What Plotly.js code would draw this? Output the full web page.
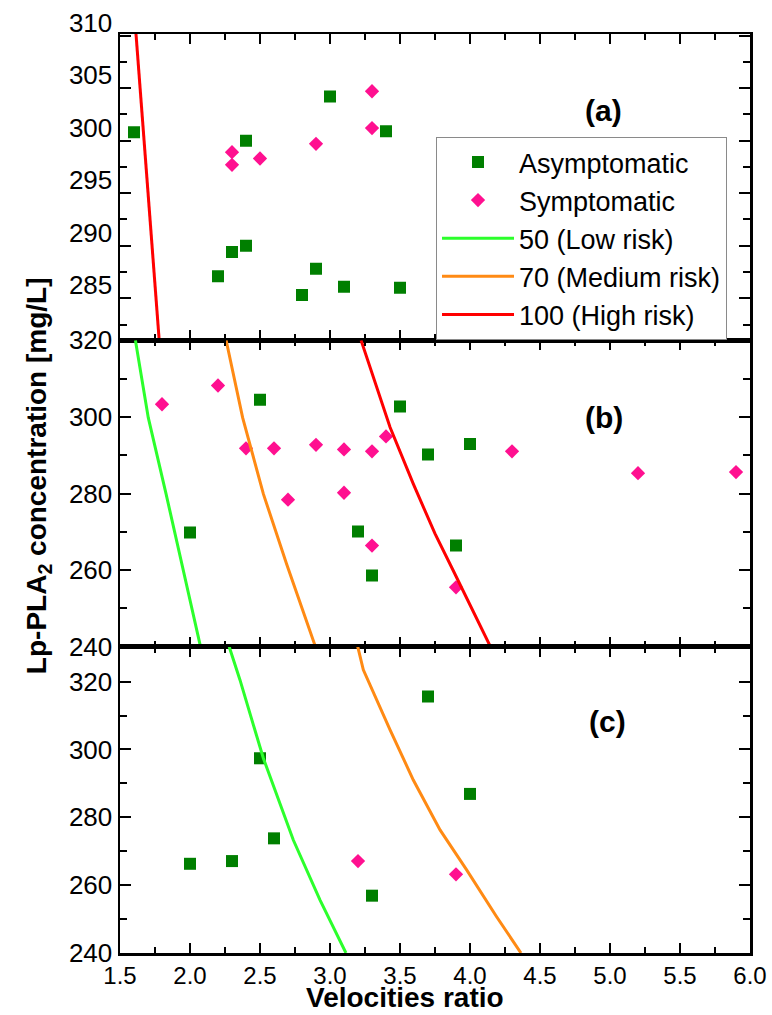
<!DOCTYPE html>
<html>
<head>
<meta charset="utf-8">
<script src="https://cdn.plot.ly/plotly-3.0.1.min.js"></script>
<style>html,body{margin:0;padding:0;background:#fff;}#chart{width:772px;height:1015px;}</style>
</head>
<body>
<div id="chart"></div>
<script>
// ---- Panel (a) data ----
const aAsymX = [1.6, 2.4, 3.0, 3.4, 2.3, 2.4, 2.2, 2.9, 2.8, 3.1, 3.5];
const aAsymY = [300.8, 300.0, 304.2, 300.9, 289.4, 290.0, 287.1, 287.8, 285.3, 286.1, 286.0];
const aSymX = [2.3, 2.3, 2.5, 2.9, 3.3, 3.3];
const aSymY = [298.9, 297.7, 298.3, 299.7, 304.7, 301.2];
const aHighX = [1.614, 1.695, 1.78];
const aHighY = [310.2, 295.6, 281.0];

// ---- Panel (b) data ----
const bAsymX = [2.5, 2.0, 3.5, 3.7, 3.2, 3.3, 3.9, 4.0];
const bAsymY = [304.5, 269.8, 302.7, 290.2, 270.1, 258.6, 266.4, 292.9];
const bSymX = [1.8, 2.2, 2.4, 2.6, 2.7, 2.9, 3.1, 3.1, 3.3, 3.4, 3.3, 3.9, 4.3, 5.2, 5.9];
const bSymY = [303.3, 308.2, 291.8, 291.8, 278.4, 292.7, 291.5, 280.2, 291.0, 294.9, 266.4, 255.5, 291.0, 285.3, 285.6];
const bLowX = [1.61, 1.702, 1.829, 1.952, 2.075];
const bLowY = [320, 299.8, 279.9, 259.9, 240];
const bMedX = [2.258, 2.376, 2.524, 2.69, 2.896];
const bMedY = [320, 299.8, 279.9, 261.6, 240];
const bHighX = [3.222, 3.429, 3.595, 3.75, 3.88, 4.146];
const bHighY = [320, 297.3, 282.5, 269.5, 259.9, 240];

// ---- Panel (c) data ----
const cAsymX = [2.0, 2.3, 2.5, 2.6, 3.3, 3.7, 4.0];
const cAsymY = [266.3, 267.1, 297.4, 273.8, 256.9, 315.6, 286.9];
const cSymX = [3.2, 3.9];
const cSymY = [267.1, 263.2];
const cLowX = [2.28, 2.357, 2.524, 2.738, 2.929, 3.114];
const cLowY = [330.3, 320.5, 297.4, 273.3, 255.6, 240];
const cMedX = [3.198, 3.238, 3.429, 3.595, 3.786, 3.976, 4.19, 4.364];
const cMedY = [330.3, 323.5, 305.8, 291.0, 276.3, 264.5, 250.7, 240];

// ---- Styling ----
const FONT = "'Liberation Sans', Arial, sans-serif";
const GREEN_SQ = '#007f00';
const PINK = '#ff1090';
const LOW = '#2cff2c';
const MED = '#ff8a14';
const HIGH = '#ff0000';

function asym(x, y, ax, show) {
  return {x, y, xaxis: 'x' + ax, yaxis: 'y' + ax, type: 'scatter', mode: 'markers',
    name: 'Asymptomatic', legendgroup: 'asym', showlegend: show, legendrank: 1,
    marker: {symbol: 'square', size: 12, color: GREEN_SQ}};
}
function sym(x, y, ax, show) {
  return {x, y, xaxis: 'x' + ax, yaxis: 'y' + ax, type: 'scatter', mode: 'markers',
    name: 'Symptomatic', legendgroup: 'sym', showlegend: show, legendrank: 2,
    marker: {symbol: 'diamond', size: 11, color: PINK}};
}
function line(x, y, ax, name, color, rank, show) {
  return {x, y, xaxis: 'x' + ax, yaxis: 'y' + ax, type: 'scatter', mode: 'lines',
    name, legendgroup: name, showlegend: show, legendrank: rank,
    line: {color, width: 3}};
}

const data = [
  asym(aAsymX, aAsymY, '', true),
  sym(aSymX, aSymY, '', true),
  line(aHighX, aHighY, '', '100 (High risk)', HIGH, 5, true),
  asym(bAsymX, bAsymY, '2', false),
  sym(bSymX, bSymY, '2', false),
  line(bLowX, bLowY, '2', '50 (Low risk)', LOW, 3, true),
  line(bMedX, bMedY, '2', '70 (Medium risk)', MED, 4, true),
  line(bHighX, bHighY, '2', '100 (High risk)', HIGH, 5, false),
  asym(cAsymX, cAsymY, '3', false),
  sym(cSymX, cSymY, '3', false),
  line(cLowX, cLowY, '3', '50 (Low risk)', LOW, 3, false),
  line(cMedX, cMedY, '3', '70 (Medium risk)', MED, 4, false)
];

function xax(domainAnchor, showLabels) {
  return {range: [1.5, 6.0], anchor: domainAnchor, tick0: 1.5, dtick: 0.5,
    tickformat: '.1f', showticklabels: showLabels,
    ticks: 'inside', ticklen: 10, tickwidth: 2, tickcolor: '#000',
    minor: {dtick: 0.25, tick0: 1.5, ticks: 'inside', ticklen: 6, tickwidth: 2, tickcolor: '#000'},
    showline: true, linecolor: '#000', linewidth: 2.5, mirror: 'allticks',
    showgrid: false, zeroline: false, fixedrange: true,
    tickfont: {family: FONT, size: 24, color: '#000'}};
}
function yax(domain, range, dtick, anchorX, shift) {
  const o = {domain, range, dtick, tick0: 0, anchor: anchorX,
    ticks: 'inside', ticklen: 11, tickwidth: 2, tickcolor: '#000',
    minor: {dtick: dtick / 2, ticks: 'inside', ticklen: 7, tickwidth: 2, tickcolor: '#000'},
    showline: true, linecolor: '#000', linewidth: 2.5, mirror: 'allticks',
    showgrid: false, zeroline: false, fixedrange: true,
    tickfont: {family: FONT, size: 26, color: '#000'}};
  if (shift) o.ticklabelshift = shift;
  return o;
}

const layout = {
  width: 772, height: 1015,
  margin: {l: 120, r: 22, t: 34, b: 62},
  paper_bgcolor: '#fff', plot_bgcolor: '#fff',
  font: {family: FONT, color: '#000'},
  showlegend: true,
  legend: {x: 0.5016, y: 0.888, xanchor: 'left', yanchor: 'top',
    bgcolor: '#fff', bordercolor: '#8a8a8a', borderwidth: 1,
    font: {family: FONT, size: 27, color: '#000'}, traceorder: 'normal', itemwidth: 72},
  xaxis: xax('y', false),
  yaxis: yax([0.6667, 1], [281.0, 310.15], 5, 'x', -13),
  xaxis2: xax('y2', false),
  yaxis2: yax([0.3333, 0.6667], [240, 320], 20, 'x2', 0),
  xaxis3: xax('y3', true),
  yaxis3: yax([0, 0.3333], [240, 330.3], 20, 'x3', 0),
  annotations: [
    {text: '<b>(a)</b>', xref: 'x', yref: 'y domain', x: 4.95, y: 0.81, showarrow: false,
      font: {family: FONT, size: 30, color: '#000'}},
    {text: '<b>(b)</b>', xref: 'x2', yref: 'y2 domain', x: 4.96, y: 0.81, showarrow: false,
      font: {family: FONT, size: 30, color: '#000'}},
    {text: '<b>(c)</b>', xref: 'x3', yref: 'y3 domain', x: 4.98, y: 0.816, showarrow: false,
      font: {family: FONT, size: 30, color: '#000'}},
    {text: '<b>Lp-PLA<sub>2</sub> concentration [mg/L]</b>', xref: 'paper', yref: 'paper',
      x: -0.13, y: 0.519, textangle: -90, showarrow: false, xanchor: 'center', yanchor: 'middle',
      font: {family: FONT, size: 28, color: '#000'}},
    {text: '<b>Velocities ratio</b>', xref: 'paper', yref: 'paper',
      x: 0.452, y: -0.0675, showarrow: false, xanchor: 'center', yanchor: 'bottom',
      font: {family: FONT, size: 28, color: '#000'}}
  ]
};

Plotly.newPlot('chart', data, layout, {displayModeBar: false, staticPlot: true});
</script>
</body>
</html>
